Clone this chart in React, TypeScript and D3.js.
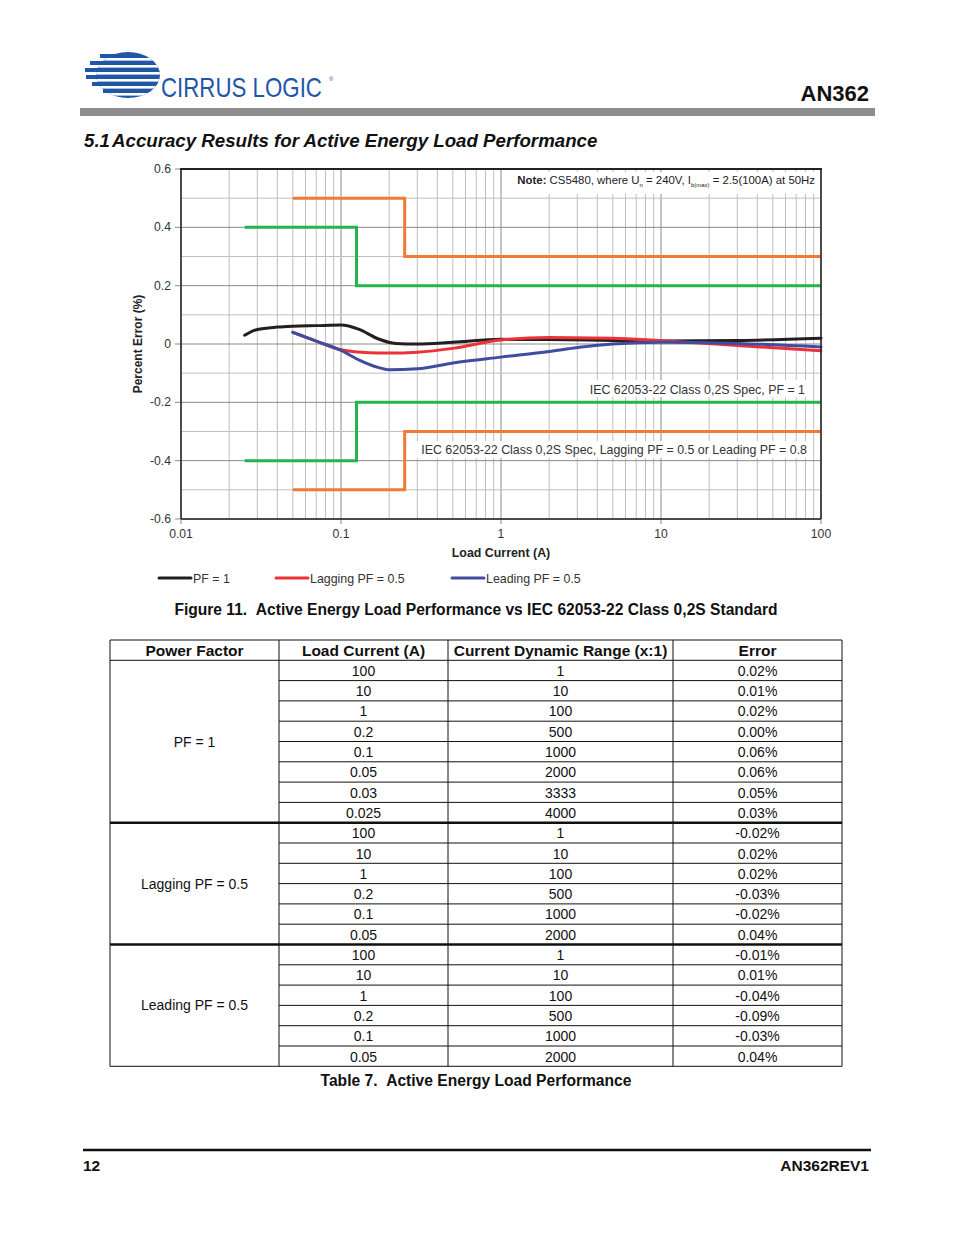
import React, { useLayoutEffect, useRef, useState } from "react";
import * as d3 from "d3";

// ---------- Data ----------
const pf1Current = [0.025, 0.03, 0.04, 0.05, 0.07, 0.1, 0.13, 0.17, 0.22, 0.3, 0.5, 1, 2, 5, 10, 30, 100];
const pf1Error = [0.03, 0.05, 0.058, 0.061, 0.063, 0.065, 0.05, 0.018, 0.002, 0.0, 0.006, 0.016, 0.015, 0.012, 0.01, 0.012, 0.02];

const lagCurrent = [0.05, 0.07, 0.1, 0.15, 0.2, 0.3, 0.5, 1, 2, 5, 10, 30, 100];
const lagError = [0.04, 0.01, -0.02, -0.03, -0.031, -0.028, -0.015, 0.014, 0.022, 0.02, 0.011, -0.005, -0.023];

const leadCurrent = [0.05, 0.07, 0.1, 0.13, 0.17, 0.2, 0.3, 0.5, 1, 2, 3, 5, 10, 30, 100];
const leadError = [0.04, 0.01, -0.022, -0.055, -0.08, -0.088, -0.085, -0.065, -0.045, -0.026, -0.012, 0.0, 0.006, 0.002, -0.01];

// Spec limits (step lines)
const specPF1Current = [0.025, 0.125, 0.125, 100];
const specPF1Upper = [0.4, 0.4, 0.2, 0.2];
const specPF05Current = [0.05, 0.25, 0.25, 100];
const specPF05Upper = [0.5, 0.5, 0.3, 0.3];

const yTicks = [0.6, 0.4, 0.2, 0, -0.2, -0.4, -0.6];
const yTickLabels = ["0.6", "0.4", "0.2", "0", "-0.2", "-0.4", "-0.6"];
const xTicks = [0.01, 0.1, 1, 10, 100];
const xTickLabels = ["0.01", "0.1", "1", "10", "100"];

const legendLabels = ["PF = 1", "Lagging PF = 0.5", "Leading PF = 0.5"];

// Table
const tableHeaders = ["Power Factor", "Load Current (A)", "Current Dynamic Range (x:1)", "Error"];
const groupLabels = ["PF = 1", "Lagging PF = 0.5", "Leading PF = 0.5"];
const groupSizes = [8, 6, 6];
const tblCurrent = ["100", "10", "1", "0.2", "0.1", "0.05", "0.03", "0.025", "100", "10", "1", "0.2", "0.1", "0.05", "100", "10", "1", "0.2", "0.1", "0.05"];
const tblRange = ["1", "10", "100", "500", "1000", "2000", "3333", "4000", "1", "10", "100", "500", "1000", "2000", "1", "10", "100", "500", "1000", "2000"];
const tblError = ["0.02%", "0.01%", "0.02%", "0.00%", "0.06%", "0.06%", "0.05%", "0.03%", "-0.02%", "0.02%", "0.02%", "-0.03%", "-0.02%", "0.04%", "-0.01%", "0.01%", "-0.04%", "-0.09%", "-0.03%", "0.04%"];

const FONT = "'Liberation Sans', Arial, Helvetica, sans-serif";

export default function App() {
  const logoRef = useRef<SVGTextElement>(null);
  const [logoScale, setLogoScale] = useState(1);
  useLayoutEffect(() => {
    if (logoRef.current) {
      const w = logoRef.current.getComputedTextLength();
      if (w > 0) setLogoScale(161 / w);
    }
  }, []);

  const x = d3.scaleLog().domain([0.01, 100]).range([181, 821]);
  const y = d3.scaleLinear().domain([-0.6, 0.6]).range([519, 169]);

  const curve = d3
    .line<[number, number]>()
    .x((d) => x(d[0]))
    .y((d) => y(d[1]))
    .curve(d3.curveMonotoneX);
  const step = d3
    .line<[number, number]>()
    .x((d) => x(d[0]))
    .y((d) => y(d[1]));

  const zip = (a: number[], b: number[], s = 1): [number, number][] => a.map((v, i) => [v, b[i] * s]);

  // gridlines
  const minorX: number[] = [];
  for (let e = -2; e < 2; e++) {
    for (let m = 2; m <= 9; m++) minorX.push(m * Math.pow(10, e));
  }
  const hLines = d3.range(-6, 7).map((v) => v / 10);

  const colors = { pf1: "#231f20", lag: "#ee3137", lead: "#3f4c9f", green: "#27b34b", orange: "#ef7b3a" };

  // table geometry
  const cols = [110, 279, 448, 673, 842];
  const tTop = 640;
  const rowH = 20.3;
  const rowsTotal = tblCurrent.length;
  const groupStarts: number[] = [];
  let acc = 0;
  groupSizes.forEach((g) => {
    groupStarts.push(acc);
    acc += g;
  });

  const logoBars = [
    { y: 56, x0: 100 },
    { y: 63, x0: 90 },
    { y: 70, x0: 85 },
    { y: 77, x0: 86 },
    { y: 84, x0: 92 },
    { y: 91, x0: 103 },
  ];

  return (
    <svg width={954} height={1235} style={{ position: "absolute", left: 0, top: 0, background: "#fff" }} fontFamily={FONT}>
      {/* Header logo */}
      <defs>
        <clipPath id="globe">
          <ellipse cx={128} cy={75} rx={32} ry={23} />
        </clipPath>
      </defs>
      <g>
        <ellipse cx={128} cy={75} rx={32} ry={23} fill="#1f56a8" />
        {logoBars.map((b, i) => (
          <rect key={i} x={b.x0} y={b.y - 2} width={120 - b.x0} height={4} fill="#1f56a8" />
        ))}
        {logoBars.map((b, i) => (
          <rect key={"w" + i} x={96} y={b.y + 2} width={70} height={2.6} fill="#fff" clipPath="url(#globe)" />
        ))}
        <text
          ref={logoRef}
          transform={`translate(161,97) scale(${logoScale},1)`}
          fontSize={27}
          fill="#1f56a8"
          fontFamily="'Liberation Sans Narrow', 'Liberation Sans', Arial"
        >
          CIRRUS LOGIC
        </text>
        <text x={329} y={81} fontSize={6} fill="#1f56a8">
          ®
        </text>
      </g>
      <text x={869} y={101} fontSize={22} fontWeight="bold" textAnchor="end" fill="#111">
        AN362
      </text>
      <rect x={80} y={108} width={795} height={8} fill="#8c8c8c" />

      <text x={84} y={147} fontSize={18.7} fontWeight="bold" fontStyle="italic" fill="#111">
        5.1
        <tspan x={112}>Accuracy Results for Active Energy Load Performance</tspan>
      </text>

      {/* Chart gridlines */}
      <g>
        {minorX.map((v, i) => (
          <line key={"mx" + i} x1={x(v)} x2={x(v)} y1={169} y2={519} stroke="#bfbfbf" strokeWidth={1} />
        ))}
        {xTicks.map((v, i) => (
          <line key={"Mx" + i} x1={x(v)} x2={x(v)} y1={169} y2={524} stroke="#8a8a8a" strokeWidth={1} />
        ))}
        {hLines.map((v, i) => {
          const major = Math.abs(Math.round(v * 10)) % 2 === 0;
          return (
            <line
              key={"h" + i}
              x1={major ? 175 : 181}
              x2={821}
              y1={y(v)}
              y2={y(v)}
              stroke={major ? "#8a8a8a" : "#bfbfbf"}
              strokeWidth={1}
            />
          );
        })}
      </g>

      {/* label backgrounds */}
      <rect x={507} y={172} width={312} height={22} fill="#fff" />
      <rect x={584} y={380} width={226} height={17} fill="#fff" />
      <rect x={413} y={441} width={398} height={17} fill="#fff" />

      {/* Spec lines */}
      <g fill="none" strokeWidth={3}>
        <path d={step(zip(specPF05Current, specPF05Upper))!} stroke={colors.orange} />
        <path d={step(zip(specPF05Current, specPF05Upper, -1))!} stroke={colors.orange} />
        <path d={step(zip(specPF1Current, specPF1Upper))!} stroke={colors.green} />
        <path d={step(zip(specPF1Current, specPF1Upper, -1))!} stroke={colors.green} />
      </g>

      {/* Data curves */}
      <g fill="none" strokeWidth={3} strokeLinecap="round">
        <path d={curve(zip(pf1Current, pf1Error))!} stroke={colors.pf1} />
        <path d={curve(zip(lagCurrent, lagError))!} stroke={colors.lag} />
        <path d={curve(zip(leadCurrent, leadError))!} stroke={colors.lead} />
      </g>

      {/* Frame */}
      <line x1={180} x2={822} y1={169} y2={169} stroke="#222" strokeWidth={2} />
      <line x1={821} x2={821} y1={169} y2={519} stroke="#222" strokeWidth={1.5} />
      <line x1={181} x2={181} y1={169} y2={519} stroke="#222" strokeWidth={1.5} />
      <line x1={181} x2={821} y1={519} y2={519} stroke="#222" strokeWidth={1.5} />

      {/* Annotations */}
      <text x={815} y={184} fontSize={11.4} textAnchor="end" fill="#222">
        <tspan fontWeight="bold">Note:</tspan>
        <tspan> CS5480, where U</tspan>
        <tspan fontSize={6} dy={3}>n</tspan>
        <tspan dy={-3}> = 240V, I</tspan>
        <tspan fontSize={6} dy={3}>b(max)</tspan>
        <tspan dy={-3}> = 2.5(100A) at 50Hz</tspan>
      </text>
      <text x={805} y={394} fontSize={12.4} textAnchor="end" fill="#333">
        IEC 62053-22 Class 0,2S Spec, PF = 1
      </text>
      <text x={807} y={454} fontSize={12.4} textAnchor="end" fill="#333">
        IEC 62053-22 Class 0,2S Spec, Lagging PF = 0.5 or Leading PF = 0.8
      </text>

      {/* Axes labels */}
      {yTicks.map((v, i) => (
        <text key={"yt" + i} x={171} y={y(v) + 4} fontSize={12.2} textAnchor="end" fill="#333">
          {yTickLabels[i]}
        </text>
      ))}
      {xTicks.map((v, i) => (
        <text key={"xt" + i} x={x(v)} y={538} fontSize={12.2} textAnchor="middle" fill="#333">
          {xTickLabels[i]}
        </text>
      ))}
      <text x={501} y={557} fontSize={12.4} fontWeight="bold" textAnchor="middle" fill="#222">
        Load Current (A)
      </text>
      <text transform="translate(142,344) rotate(-90)" fontSize={12} fontWeight="bold" textAnchor="middle" fill="#222">
        Percent Error (%)
      </text>

      {/* Legend */}
      {[colors.pf1, colors.lag, colors.lead].map((c, i) => {
        const lx = [159, 276, 452][i];
        return (
          <g key={"lg" + i}>
            <line x1={lx} x2={lx + 32} y1={578} y2={578} stroke={c} strokeWidth={3} strokeLinecap="round" />
            <text x={lx + 34} y={582.5} fontSize={12.4} fill="#333">
              {legendLabels[i]}
            </text>
          </g>
        );
      })}

      <text x={476} y={615} fontSize={15.6} fontWeight="bold" textAnchor="middle" fill="#111">
        Figure 11.{"\u00a0\u00a0"}Active Energy Load Performance vs IEC 62053-22 Class 0,2S Standard
      </text>

      {/* Table */}
      <g fill="#111" fontSize={14}>
        {tableHeaders.map((h, i) => (
          <text key={"th" + i} x={(cols[i] + cols[i + 1]) / 2} y={tTop + 15.5} textAnchor="middle" fontWeight="bold" fontSize={15.5}>
            {h}
          </text>
        ))}
        {tblCurrent.map((c, r) => {
          const ty = tTop + rowH * (r + 1) + 15.5;
          return (
            <g key={"r" + r}>
              <text x={(cols[1] + cols[2]) / 2} y={ty} textAnchor="middle">{c}</text>
              <text x={(cols[2] + cols[3]) / 2} y={ty} textAnchor="middle">{tblRange[r]}</text>
              <text x={(cols[3] + cols[4]) / 2} y={ty} textAnchor="middle">{tblError[r]}</text>
            </g>
          );
        })}
        {groupLabels.map((g, i) => {
          const top = tTop + rowH * (groupStarts[i] + 1);
          const mid = top + (rowH * groupSizes[i]) / 2;
          return (
            <text key={"gl" + i} x={(cols[0] + cols[1]) / 2} y={mid + 5} textAnchor="middle">
              {g}
            </text>
          );
        })}
        {/* horizontal lines */}
        <line x1={cols[0]} x2={cols[4]} y1={tTop} y2={tTop} stroke="#111" strokeWidth={1} />
        <line x1={cols[0]} x2={cols[4]} y1={tTop + rowH} y2={tTop + rowH} stroke="#111" strokeWidth={1} />
        {d3.range(1, rowsTotal).map((r) => {
          const yy = tTop + rowH * (r + 1);
          const thick = groupStarts.includes(r);
          return (
            <line
              key={"hl" + r}
              x1={thick ? cols[0] : cols[1]}
              x2={cols[4]}
              y1={yy}
              y2={yy}
              stroke="#111"
              strokeWidth={thick ? 2.5 : 1}
            />
          );
        })}
        <line x1={cols[0]} x2={cols[4]} y1={tTop + rowH * (rowsTotal + 1)} y2={tTop + rowH * (rowsTotal + 1)} stroke="#111" strokeWidth={1} />
        {cols.map((cx, i) => (
          <line key={"vl" + i} x1={cx} x2={cx} y1={tTop} y2={tTop + rowH * (rowsTotal + 1)} stroke="#111" strokeWidth={1} />
        ))}
      </g>
      <text x={476} y={1086} fontSize={15.6} fontWeight="bold" textAnchor="middle" fill="#111">
        Table 7.{"\u00a0\u00a0"}Active Energy Load Performance
      </text>

      {/* Footer */}
      <line x1={83} x2={871} y1={1150} y2={1150} stroke="#111" strokeWidth={2.5} />
      <text x={83} y={1171} fontSize={15.5} fontWeight="bold" fill="#111">12</text>
      <text x={869} y={1171} fontSize={15.5} fontWeight="bold" textAnchor="end" fill="#111">AN362REV1</text>
    </svg>
  );
}
